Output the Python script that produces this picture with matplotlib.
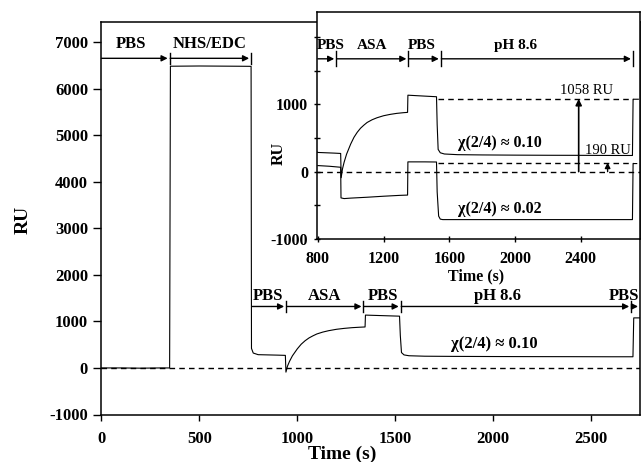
import matplotlib
matplotlib.use("Agg")
import matplotlib.pyplot as plt
from matplotlib.ticker import MultipleLocator

plt.rcParams['font.family'] = ['Liberation Serif', 'DejaVu Serif']
plt.rcParams['font.weight'] = 'bold'
plt.rcParams['axes.labelweight'] = 'bold'

# ---------------- data ----------------
# full sensorgram (main plot, also upper curve of the inset)
trace_t = [0, 100, 200, 300, 348, 352, 500, 700, 760, 764, 766, 775, 800, 900, 939,
           942, 950, 960, 975, 990, 1000, 1020, 1040, 1060, 1080, 1100, 1130, 1160,
           1200, 1240, 1280, 1320, 1346, 1348, 1400, 1460, 1522, 1526, 1532, 1545,
           1570, 1650, 1800, 2000, 2200, 2400, 2600, 2714, 2718, 2750]
trace_ru = [0, 0, -5, 0, 0, 6480, 6485, 6480, 6478, 6475, 420, 320, 285, 275, 270,
            -90, 40, 140, 260, 350, 410, 510, 585, 645, 690, 730, 770, 800,
            830, 850, 865, 875, 880, 1135, 1128, 1120, 1112, 700, 330, 280,
            262, 252, 248, 245, 243, 242, 240, 240, 1075, 1075]

# lower curve of the inset
low_t = [800, 870, 939, 941, 960, 1000, 1100, 1200, 1300, 1346, 1348, 1450, 1522,
         1526, 1535, 1545, 1560, 1700, 2000, 2400, 2714, 2718, 2740]
low_ru = [90, 80, 65, -390, -400, -393, -380, -365, -352, -348, 145, 145, 143,
          -300, -660, -705, -712, -712, -712, -712, -712, 120, 120]

# phase bars: (start, end) and labels
main_top_bounds = [0, 348, 764]
main_top_labels = ['PBS', 'NHS/EDC']
main_top_label_x = [150, 550]
main_top_y = 6650
main_top_label_y = 6950

main_low_bounds = [770, 943, 1338, 1528, 2705, 2750]
main_low_labels = ['PBS', 'ASA', 'PBS', 'pH 8.6', 'PBS']
main_low_label_x = [850, 1138, 1440, 2020, 2745]
main_low_y = 1320
main_low_label_y = 1540

inset_bounds = [800, 912, 1351, 1548, 2717]
inset_labels = ['PBS', 'ASA', 'PBS', 'pH 8.6']
inset_label_x = [880, 1131, 1434, 2000]
inset_y = 1675
inset_label_y = 1870

level_high = 1080
level_low = 135
level_high_text = '1058 RU'
level_low_text = '190 RU'
arrow_high_x = 2387
arrow_low_x = 2563

# ---------------- figure ----------------
fig = plt.figure(figsize=(6.42, 4.62), dpi=100)
W, H = 642.0, 462.0
ax = fig.add_axes([100.5 / W, (H - 414.5) / H, (640 - 100.5) / W, (414.5 - 22) / H])
axi = fig.add_axes([317 / W, (H - 239) / H, (640 - 317) / W, (239 - 12) / H])

lw_tr = 0.8
dash = (4, 3)

# ---- main ----
ax.plot(trace_t, trace_ru, color='k', lw=lw_tr)
ax.plot([0, 2750], [0, 0], color='k', lw=1.0, dashes=dash)
ax.set_xlim(-5, 2750)
ax.set_ylim(-1000, 7430)
ax.xaxis.set_major_locator(MultipleLocator(500))
ax.tick_params(axis='y', direction='out', length=5.8, width=1, pad=3.2, labelsize=12)
ax.tick_params(axis='x', direction='out', length=4.3, width=1, pad=7.5, labelsize=12)
ax.set_yticks(range(-1000, 7001, 1000))
ax.set_yticklabels(['-1000'] + [str(v) for v in range(0, 7001, 1000)])
for s in ax.spines.values():
    s.set_linewidth(1.1)
ax.set_xlabel('Time (s)', fontsize=14)
ax.xaxis.set_label_coords(0.448, -0.08)
ax.xaxis.label.set_va('top')
ax.set_ylabel('RU', fontsize=14)
ax.yaxis.set_label_coords(-0.128, 0.496)


def phase_bars(a, bounds, labels, label_x, y, label_y, gap, barh, fs,
               last_head_only=False):
    n = len(bounds) - 1
    for i in range(n):
        x0, x1 = bounds[i], bounds[i + 1]
        a.annotate('', xy=(x1 - gap, y), xytext=(x0 + (gap * 0.3 if i > 0 else 0), y),
                   arrowprops=dict(arrowstyle='-|>', color='k', lw=1.0,
                                   shrinkA=0, shrinkB=0, mutation_scale=9),
                   annotation_clip=False)
        if not (last_head_only and i == n - 1):
            a.plot([x1, x1], [y - barh, y + barh], color='k', lw=1.0, clip_on=False)
        ha = 'center'
        if last_head_only and i == n - 1:
            ha = 'right'
        a.text(label_x[i], label_y, labels[i], ha=ha, va='center', fontsize=fs,
               fontweight='bold')


phase_bars(ax, main_top_bounds, main_top_labels, main_top_label_x, main_top_y,
           main_top_label_y, 10, 120, 12)
phase_bars(ax, main_low_bounds, main_low_labels, main_low_label_x, main_low_y,
           main_low_label_y, 10, 120, 12, last_head_only=True)
ax.text(2005, 507, 'χ(2/4) ≈ 0.10', ha='center', va='center', fontsize=12,
        fontweight='bold')

# ---- inset ----
axi.set_facecolor('white')
axi.plot(trace_t, trace_ru, color='k', lw=lw_tr)
axi.plot(low_t, low_ru, color='k', lw=lw_tr)
axi.plot([795, 2760], [0, 0], color='k', lw=1.0, dashes=dash)
axi.plot([1530, 2715], [level_high, level_high], color='k', lw=1.0, dashes=dash)
axi.plot([1530, 2715], [level_low, level_low], color='k', lw=1.0, dashes=dash)
axi.annotate('', xy=(arrow_high_x, level_high), xytext=(arrow_high_x, 0),
             arrowprops=dict(arrowstyle='-|>', color='k', lw=1.2, shrinkA=0, shrinkB=0,
                             mutation_scale=9))
axi.annotate('', xy=(arrow_low_x, level_low), xytext=(arrow_low_x, 0),
             arrowprops=dict(arrowstyle='-|>', color='k', lw=1.0, shrinkA=0, shrinkB=0,
                             mutation_scale=8))
axi.text(2436, 1208, level_high_text, ha='center', va='center', fontsize=10.5,
         fontweight='normal')
axi.text(2563, 320, level_low_text, ha='center', va='center', fontsize=10.5,
         fontweight='normal')
axi.text(1908, 432, 'χ(2/4) ≈ 0.10', ha='center', va='center', fontsize=11.5,
         fontweight='bold')
axi.text(1908, -556, 'χ(2/4) ≈ 0.02', ha='center', va='center', fontsize=11.5,
         fontweight='bold')
phase_bars(axi, inset_bounds, inset_labels, inset_label_x, inset_y, inset_label_y,
           12, 110, 11)

axi.set_xlim(795, 2760)
axi.set_ylim(-1000, 2370)
axi.set_xticks([800, 1200, 1600, 2000, 2400])
axi.yaxis.set_minor_locator(MultipleLocator(500))
axi.tick_params(axis='y', which='both', direction='inout', length=5, width=1, pad=4,
                labelsize=11.5)
axi.tick_params(axis='x', which='major', direction='inout', length=5, width=1, pad=6,
                labelsize=11.5)
axi.set_yticks([-1000, 0, 1000])
axi.set_yticklabels(['-1000', '0', '1000'])
axi.yaxis.set_minor_locator(MultipleLocator(500))
for s in axi.spines.values():
    s.set_linewidth(1.1)
axi.set_xlabel('Time (s)', fontsize=11.5)
axi.xaxis.set_label_coords(0.492, -0.128)
axi.xaxis.label.set_va('top')
axi.set_ylabel('RU', fontsize=11.5)
axi.yaxis.set_label_coords(-0.093, 0.379)

fig.savefig('out.png', dpi=100)
